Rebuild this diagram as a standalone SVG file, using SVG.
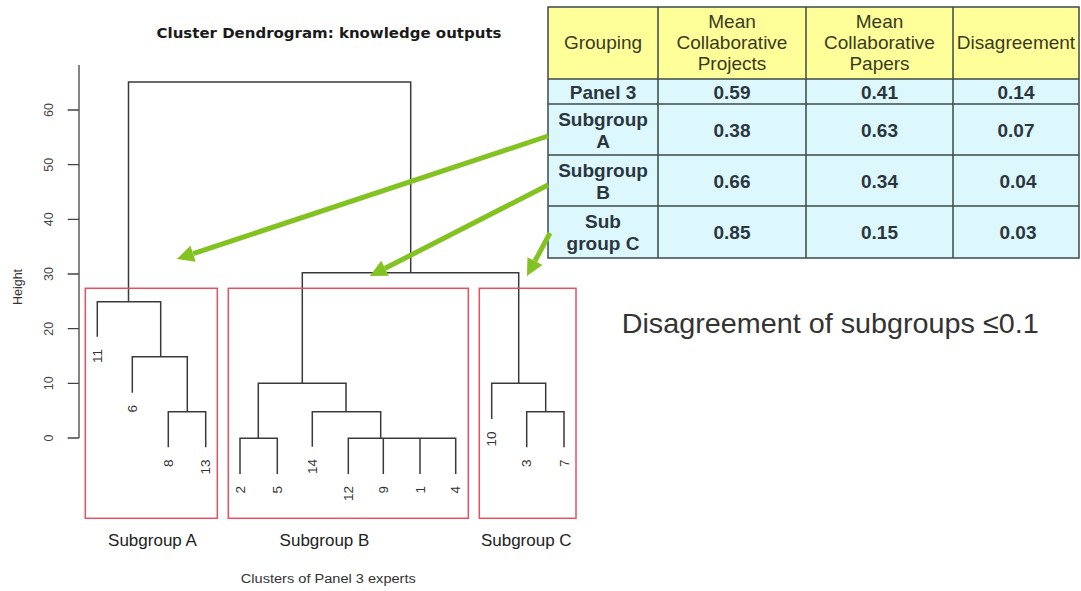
<svg xmlns="http://www.w3.org/2000/svg" width="1081" height="591" viewBox="0 0 1081 591">
<style>
  .dl{fill:none;stroke:#3a3a3a;stroke-width:1.5}
  .ax{fill:none;stroke:#444;stroke-width:1.3}
  .box{fill:none;stroke:#e2525f;stroke-width:1.5}
  .lab{font-family:"Liberation Sans",Arial,sans-serif;fill:#333}
  .leaf{font-family:"Liberation Sans",Arial,sans-serif;font-size:13.5px;fill:#333;text-anchor:end}
  .tick{font-family:"Liberation Sans",Arial,sans-serif;font-size:12.5px;fill:#444;text-anchor:middle}
  .sg{font-family:"Liberation Sans",Arial,sans-serif;font-size:17px;fill:#222;text-anchor:middle}
  .th{font-family:"Liberation Sans",Arial,sans-serif;font-size:19px;fill:#3a3a22;text-anchor:middle}
  .td{font-family:"Liberation Sans",Arial,sans-serif;font-size:19px;font-weight:bold;fill:#2b3540;text-anchor:middle}
  .hd{fill:#ffff99}
  .bd{fill:#dcf8fc}
  .tl{stroke:#3d4a4a;stroke-width:1.5;fill:none}
  .arr{stroke:#82c221;stroke-width:5;fill:none}
</style>
<defs>
  <marker id="ah" viewBox="0 0 10 10" refX="0" refY="5" markerUnits="userSpaceOnUse" markerWidth="17" markerHeight="17" orient="auto">
    <path d="M0,0 L10,5 L0,10 z" fill="#82c221"/>
  </marker>
</defs>
<rect width="1081" height="591" fill="#ffffff"/>

<g id="title">
  <text x="329" y="38.3" text-anchor="middle" font-family="DejaVu Sans, Verdana, sans-serif" font-weight="bold" font-size="14" fill="#1a1a1a" textLength="345" lengthAdjust="spacingAndGlyphs">Cluster Dendrogram: knowledge outputs</text>
</g>

<g id="axis">
  <path class="ax" d="M79,65 V438 M67.7,438 H79 M67.7,383.3 H79 M67.7,328.7 H79 M67.7,274 H79 M67.7,219.3 H79 M67.7,164.7 H79 M67.7,110 H79"/>
  <text class="tick" transform="translate(52.5,438) rotate(-90)">0</text>
  <text class="tick" transform="translate(52.5,383.3) rotate(-90)">10</text>
  <text class="tick" transform="translate(52.5,328.7) rotate(-90)">20</text>
  <text class="tick" transform="translate(52.5,274) rotate(-90)">30</text>
  <text class="tick" transform="translate(52.5,219.3) rotate(-90)">40</text>
  <text class="tick" transform="translate(52.5,164.7) rotate(-90)">50</text>
  <text class="tick" transform="translate(52.5,110) rotate(-90)">60</text>
  <text class="lab" font-size="12.5" text-anchor="middle" transform="translate(22,287) rotate(-90)">Height</text>
</g>

<g id="dendrogram">
  <path class="dl" d="M128.5,301.7 V82 H410.7 V272.7"/>
  <path class="dl" d="M302.3,383.3 V272.7 H518.7 V383.3"/>
  <path class="dl" d="M97.3,336.7 V301.7 H160.7 V356.7 M132.3,392.7 V356.7 H187.3 V411.7 M168.3,447.3 V411.7 H205.7 V447.3"/>
  <path class="dl" d="M258.3,438.3 V383.3 H346 V411.7 M240,474 V438.3 H277.3 V474 M312.3,446.7 V411.7 H380.7 V438.3 M348.3,474 V438.3 H455.7 V474 M383.3,438.3 V474 M420,438.3 V474"/>
  <path class="dl" d="M491.7,419 V383.3 H545.7 V411.7 M526.7,447.3 V411.7 H564 V447.3"/>
  <text class="leaf" transform="translate(101.8,349) rotate(-90)">11</text>
  <text class="leaf" transform="translate(136.8,405) rotate(-90)">6</text>
  <text class="leaf" transform="translate(172.8,459.5) rotate(-90)">8</text>
  <text class="leaf" transform="translate(210.2,459.5) rotate(-90)">13</text>
  <text class="leaf" transform="translate(244.5,486) rotate(-90)">2</text>
  <text class="leaf" transform="translate(281.8,486) rotate(-90)">5</text>
  <text class="leaf" transform="translate(316.8,459) rotate(-90)">14</text>
  <text class="leaf" transform="translate(352.8,486) rotate(-90)">12</text>
  <text class="leaf" transform="translate(387.8,486) rotate(-90)">9</text>
  <text class="leaf" transform="translate(424.5,486) rotate(-90)">1</text>
  <text class="leaf" transform="translate(460.2,486) rotate(-90)">4</text>
  <text class="leaf" transform="translate(496.2,431.5) rotate(-90)">10</text>
  <text class="leaf" transform="translate(531.2,459.5) rotate(-90)">3</text>
  <text class="leaf" transform="translate(568.5,459.5) rotate(-90)">7</text>
</g>

<g id="subgroupA">
  <rect class="box" x="85.3" y="288.3" width="132" height="230"/>
  <text class="sg" x="152.5" y="545.7">Subgroup A</text>
</g>
<g id="subgroupB">
  <rect class="box" x="228.3" y="288.3" width="240" height="230"/>
  <text class="sg" x="324.5" y="545.7">Subgroup B</text>
</g>
<g id="subgroupC">
  <rect class="box" x="479.3" y="288.3" width="96.7" height="230"/>
  <text class="sg" x="526.3" y="545.7">Subgroup C</text>
</g>

<g id="xlabel">
  <text class="lab" x="328.3" y="582.7" font-size="12" text-anchor="middle" textLength="175" lengthAdjust="spacingAndGlyphs">Clusters of Panel 3 experts</text>
</g>

<g id="table">
  <rect class="hd" x="548" y="7" width="531" height="72"/>
  <rect class="bd" x="548" y="79" width="531" height="179"/>
  <path class="tl" d="M548,7 H1079 V258 H548 Z M548,79 H1079 M548,104 H1079 M548,155 H1079 M548,206 H1079 M658,7 V258 M806,7 V258 M953,7 V258"/>
  <text class="th" x="603" y="49">Grouping</text>
  <text class="th" x="732" y="28">Mean</text>
  <text class="th" x="732" y="49">Collaborative</text>
  <text class="th" x="732" y="70">Projects</text>
  <text class="th" x="879.5" y="28">Mean</text>
  <text class="th" x="879.5" y="49">Collaborative</text>
  <text class="th" x="879.5" y="70">Papers</text>
  <text class="th" x="1016" y="49">Disagreement</text>

  <text class="td" x="603" y="98.5">Panel 3</text>
  <text class="td" x="732" y="98.5">0.59</text>
  <text class="td" x="879.5" y="98.5">0.41</text>
  <text class="td" x="1016" y="98.5">0.14</text>

  <text class="td" x="603" y="125.5">Subgroup</text>
  <text class="td" x="603" y="147.5">A</text>
  <text class="td" x="732" y="136.5">0.38</text>
  <text class="td" x="879.5" y="136.5">0.63</text>
  <text class="td" x="1016" y="136.5">0.07</text>

  <text class="td" x="603" y="176.5">Subgroup</text>
  <text class="td" x="603" y="198.5">B</text>
  <text class="td" x="732" y="187.5">0.66</text>
  <text class="td" x="879.5" y="187.5">0.34</text>
  <text class="td" x="1018" y="187.5">0.04</text>

  <text class="td" x="603" y="228">Sub</text>
  <text class="td" x="603" y="250">group C</text>
  <text class="td" x="732" y="239">0.85</text>
  <text class="td" x="879.5" y="239">0.15</text>
  <text class="td" x="1018" y="239">0.03</text>
</g>

<g id="note">
  <text class="lab" x="621.7" y="333.3" font-size="28.5" fill="#111" textLength="417" lengthAdjust="spacingAndGlyphs">Disagreement of subgroups ≤0.1</text>
</g>

<g id="connectors">
  <line class="arr" x1="548" y1="136" x2="193.1" y2="253.7" marker-end="url(#ah)"/>
  <line class="arr" x1="548" y1="185" x2="385.1" y2="268.3" marker-end="url(#ah)"/>
  <line class="arr" x1="550" y1="233" x2="535" y2="261" marker-end="url(#ah)"/>
</g>
</svg>
